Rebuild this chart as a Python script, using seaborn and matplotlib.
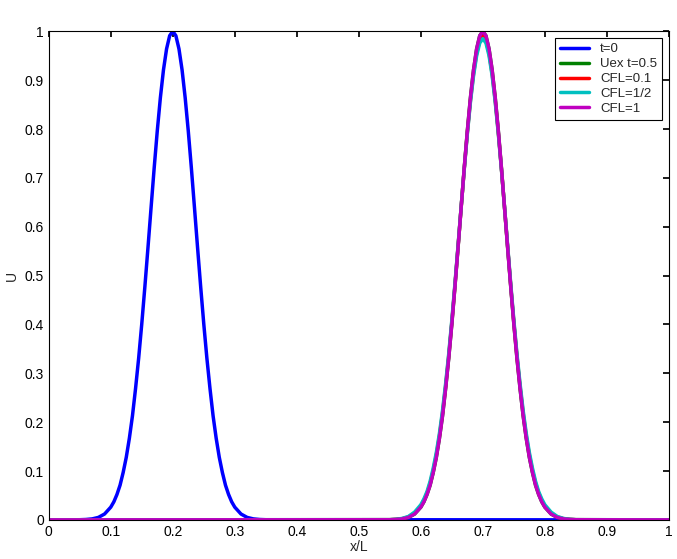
import numpy as np
import pandas as pd
import seaborn as sns
import matplotlib
matplotlib.use("Agg")
import matplotlib.pyplot as plt

sns.set_theme(style="white")
plt.rcParams['font.family'] = ['Liberation Sans', 'DejaVu Sans']

# one-sided distances from the peak (x/L) and profile values
half_off = [0.0,0.005,0.01,0.015,0.02,0.025,0.03,0.035,0.04,0.045,0.05,0.055,0.06,0.065,0.07,0.075,
            0.08,0.085,0.09,0.095,0.10,0.11,0.12,0.13,0.14,0.15]
half_exact = [1.0,0.991,0.964,0.921,0.864,0.796,0.720,0.639,0.557,0.477,0.401,0.331,0.269,0.213,0.167,0.128,
              0.097,0.071,0.052,0.037,0.026,0.012,0.005,0.002,0.0008,0.0003]
half_cfl01 = [0.99,0.981,0.955,0.913,0.858,0.792,0.718,0.639,0.559,0.480,0.405,0.336,0.274,0.219,0.172,0.133,
              0.101,0.075,0.055,0.040,0.028,0.014,0.006,0.0025,0.001,0.0004]
half_cfl05 = [0.985,0.976,0.950,0.909,0.855,0.790,0.717,0.640,0.561,0.483,0.409,0.340,0.279,0.224,0.177,0.138,
              0.106,0.079,0.058,0.043,0.031,0.016,0.007,0.003,0.0012,0.0005]
half_cfl1 = half_exact
peak_t0 = 0.2
peak_t05 = 0.7

def frame(peak, half, name):
    offs = [-o for o in half_off[:0:-1]] + half_off
    vals = half[:0:-1] + half
    x = [0.0] + [peak + o for o in offs] + [1.0]
    y = [0.0] + vals + [0.0]
    return pd.DataFrame({"x": x, "U": y, "series": name})

df = pd.concat([
    frame(peak_t0, half_exact, "t=0"),
    frame(peak_t05, half_exact, "Uex t=0.5"),
    frame(peak_t05, half_cfl01, "CFL=0.1"),
    frame(peak_t05, half_cfl05, "CFL=1/2"),
    frame(peak_t05, half_cfl1, "CFL=1"),
])
palette = {"t=0": "#0000ff", "Uex t=0.5": "#008000", "CFL=0.1": "#ff0000",
           "CFL=1/2": "#00c0c0", "CFL=1": "#c000c0"}

fig, ax = plt.subplots(figsize=(6.77, 5.59), dpi=100)
fig.subplots_adjust(left=0.072, right=0.988, top=0.944, bottom=0.07)
sns.lineplot(data=df, x="x", y="U", hue="series", palette=palette, lw=2.5, ax=ax, sort=False)
ax.set_xlim(0, 1); ax.set_ylim(0, 1)
ticks = [i/10 for i in range(11)]
labels = ['0'] + [f'{t:.1f}' for t in ticks[1:-1]] + ['1']
ax.set_xticks(ticks); ax.set_xticklabels(labels)
ax.set_yticks(ticks); ax.set_yticklabels(labels)
ax.tick_params(direction='in', length=4, labelsize=10, top=True, right=True, colors='black')
for s in ax.spines.values():
    s.set_color('black'); s.set_linewidth(0.8)
ax.set_xlabel("x/L", fontsize=10, labelpad=1)
ax.set_ylabel("U", fontsize=10)
leg = ax.legend(loc='upper right', fontsize=9.5, fancybox=False, framealpha=1,
                edgecolor='black', borderaxespad=0.5, handlelength=2.2, labelspacing=0.2)
leg.get_frame().set_linewidth(0.8)
fig.savefig("out.png")
